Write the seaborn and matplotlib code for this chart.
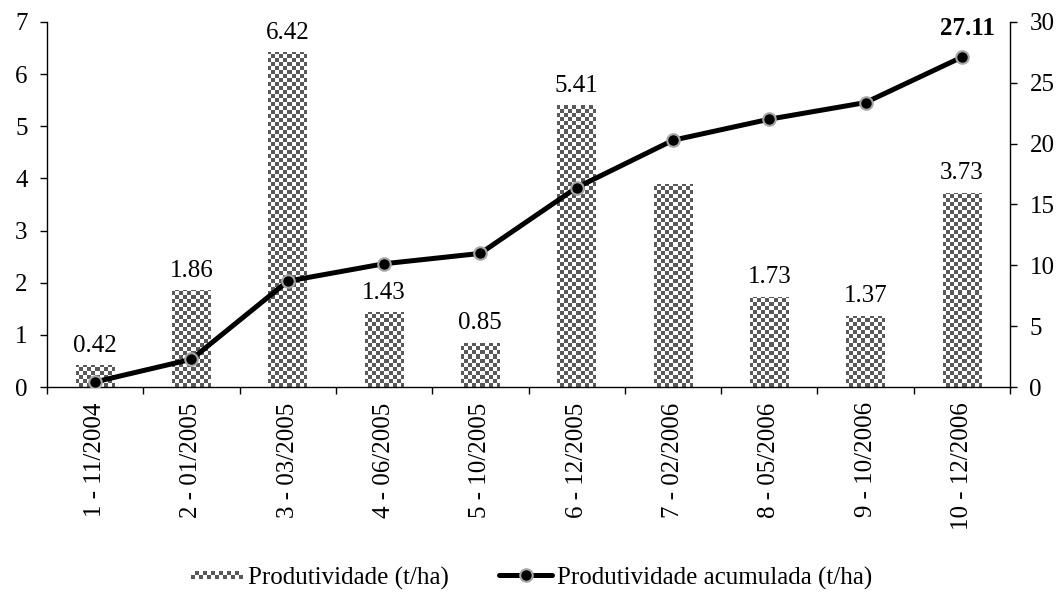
import numpy as np
import pandas as pd
import matplotlib
matplotlib.use("Agg")
import matplotlib.pyplot as plt
from matplotlib.patches import Rectangle
from matplotlib.legend_handler import HandlerBase
import seaborn as sns

# ---------------- data ----------------
categories = ["1 - 11/2004", "2 - 01/2005", "3 - 03/2005", "4 - 06/2005", "5 - 10/2005",
              "6 - 12/2005", "7 - 02/2006", "8 - 05/2006", "9 - 10/2006", "10 - 12/2006"]
produtividade = [0.42, 1.86, 6.42, 1.43, 0.85, 5.41, 3.89, 1.73, 1.37, 3.73]
show_label = [True, True, True, True, True, True, False, True, True, True]
acumulada = list(np.round(np.cumsum(produtividade), 2))
left_ticks = [0, 1, 2, 3, 4, 5, 6, 7]
right_ticks = [0, 5, 10, 15, 20, 25, 30]
legend_labels = ["Produtividade (t/ha)", "Produtividade acumulada (t/ha)"]

# ---------------- style ----------------
sns.set_theme(style="ticks")
plt.rcParams["font.family"] = ["Liberation Serif", "DejaVu Serif"]
plt.rcParams["font.size"] = 18
plt.rcParams["axes.edgecolor"] = "black"
plt.rcParams["axes.linewidth"] = 1.0
plt.rcParams["xtick.color"] = "black"
plt.rcParams["ytick.color"] = "black"
plt.rcParams["text.color"] = "black"

CHECK = "#595959"

fig = plt.figure(figsize=(10.63, 5.92), dpi=100)
ax = fig.add_axes([47 / 1063, 1 - 387 / 592, (1010 - 47) / 1063, (387 - 22) / 592])

df = pd.DataFrame({"cat": categories, "prod": produtividade, "acc": acumulada})

sns.barplot(data=df, x="cat", y="prod", ax=ax, width=0.4, color="white",
            edgecolor="none", linewidth=0, saturation=1)

n = len(categories)
ax.set_xlim(-0.5, n - 0.5)
ax.set_ylim(0, 7)

# checkerboard texture clipped to each bar
ncols, nrows = 240, 91
yy, xx = np.mgrid[0:nrows, 0:ncols]
checker = ((xx + yy) % 2).astype(float)
cmap = matplotlib.colors.ListedColormap([CHECK, "white"])
for p in list(ax.patches):
    im = ax.imshow(checker, extent=(-0.5, n - 0.5, 0, 7), cmap=cmap, aspect="auto",
                   interpolation="nearest", origin="lower", zorder=p.get_zorder() + 0.1)
    im.set_clip_path(p)
ax.set_xlim(-0.5, n - 0.5)
ax.set_ylim(0, 7)

# value labels
for i, (v, s) in enumerate(zip(produtividade, show_label)):
    if s:
        ax.annotate(f"{v:.2f}", xy=(i, v), xytext=(0, 6), textcoords="offset points",
                    ha="center", va="bottom", fontsize=18)

# cumulative line on secondary axis
ax2 = ax.twinx()
sns.lineplot(data=df, x="cat", y="acc", ax=ax2, sort=False, color="black", linewidth=3.6,
             marker="o", markersize=9, markerfacecolor="black", markeredgecolor="#a6a6a6",
             markeredgewidth=1.5, legend=False)
ax2.set_ylim(0, 30)
ax2.set_xlim(-0.5, n - 0.5)
ax2.set_yticks(right_ticks)
ax2.set_ylabel("")
ax2.set_xlabel("")
ax2.annotate(f"{acumulada[-1]:.2f}", xy=(n - 1, acumulada[-1]), xytext=(4, 16),
             textcoords="offset points", ha="center", va="baseline",
             fontsize=18, fontweight="bold")

# axes cosmetics
ax.set_xlabel("")
ax.set_ylabel("")
ax.set_yticks(left_ticks)
ax.set_xticks(range(n))
ax.set_xticklabels(categories, rotation=90, va="top", ha="center")
ax.set_xticks(np.arange(-0.5, n, 1), minor=True)
ax.tick_params(axis="x", which="major", length=0, pad=11, labelsize=18)
ax.tick_params(axis="x", which="minor", length=5, width=1, direction="out")
ax.tick_params(axis="y", which="major", length=5, width=1, direction="out", pad=9, labelsize=18)
ax2.tick_params(axis="y", which="major", length=5, width=1, direction="out", pad=9, labelsize=18)
for a in (ax, ax2):
    a.spines["top"].set_visible(False)
    for s in a.spines.values():
        s.set_color("black")
        s.set_linewidth(1.0)
ax.spines["right"].set_visible(False)
ax2.spines["left"].set_visible(False)
ax2.spines["bottom"].set_visible(False)


# legend with checker handle
class CheckerHandler(HandlerBase):
    def create_artists(self, legend, orig_handle, xdescent, ydescent, width, height,
                       fontsize, trans):
        cell = 2.9
        rows = 2
        cols = int(width // cell)
        y0 = -ydescent + height / 2 - rows * cell / 2
        x0 = -xdescent
        arts = [Rectangle((x0, y0), cols * cell, rows * cell, facecolor="white",
                          edgecolor="none", transform=trans)]
        for r in range(rows):
            for c in range(cols):
                if (r + c) % 2 == 0:
                    arts.append(Rectangle((x0 + c * cell, y0 + r * cell), cell, cell,
                                          facecolor=CHECK, edgecolor="none", transform=trans))
        return arts


proxy = Rectangle((0, 0), 1, 1)
line_handle = ax2.lines[0]
fig.legend([proxy, line_handle], legend_labels, loc="center",
           bbox_to_anchor=(0.5, 1 - 578 / 592), ncol=2, frameon=False, fontsize=18,
           handlelength=2.1, handletextpad=0.2, columnspacing=2.0, numpoints=1,
           handler_map={proxy: CheckerHandler()})

fig.savefig("out.png", dpi=100)
